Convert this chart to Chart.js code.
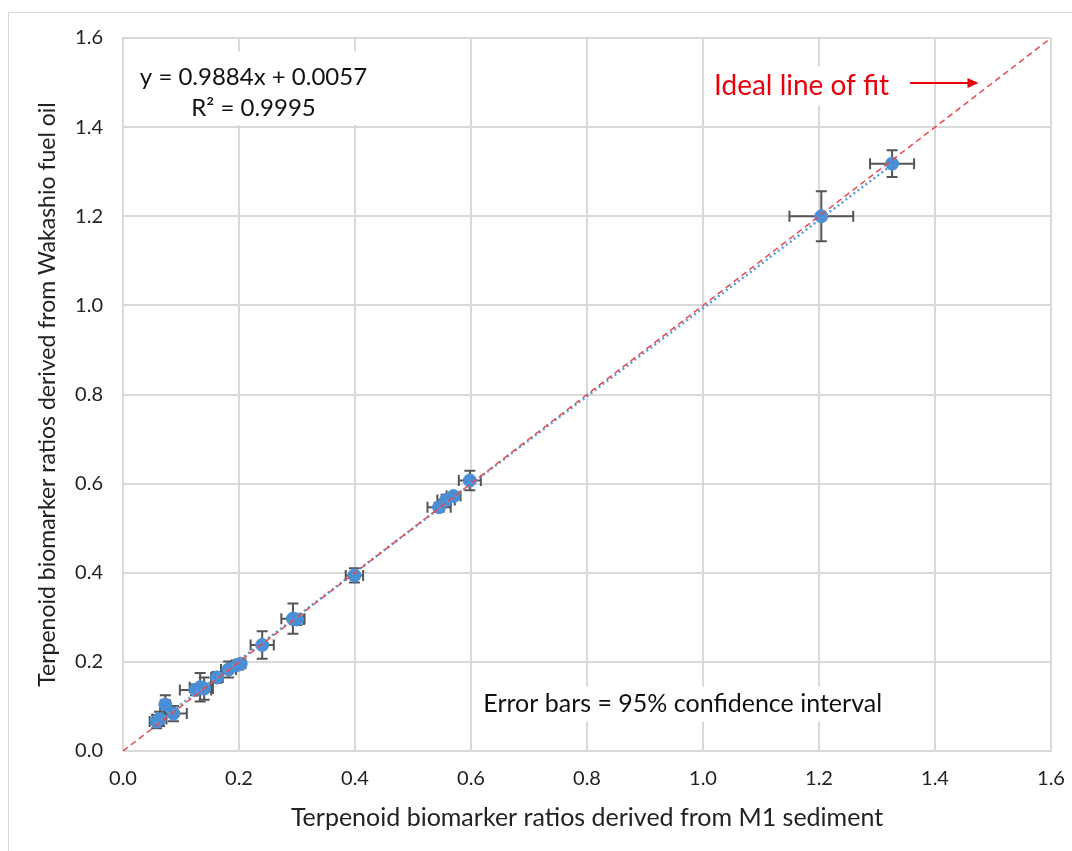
<!DOCTYPE html>
<html>
<head>
<meta charset="utf-8">
<script src="https://cdn.jsdelivr.net/npm/chart.js@4.4.0/dist/chart.umd.min.js"></script>
<style>
  html, body { margin: 0; padding: 0; background: #fff; }
  #wrap { position: relative; width: 1072px; height: 851px; }
  #frame { position: absolute; left: 8px; top: 12px; right: -10px; bottom: -10px;
           border-left: 1px solid #d6d6d6; border-top: 1px solid #d6d6d6; pointer-events: none; }
  canvas { position: absolute; left: 0; top: 0; }
</style>
</head>
<body>
<div id="wrap">
  <div id="frame"></div>
  <canvas id="chart" width="1072" height="851"></canvas>
</div>
<script>
// Puntos: ratios de M1 (x) vs Wakashio (y) y sus intervalos de confianza 95%
const ratiosM1 = [0.058, 0.063, 0.073, 0.087, 0.125, 0.133, 0.140, 0.162, 0.182, 0.197, 0.203,
                  0.240, 0.293, 0.300, 0.399, 0.545, 0.557, 0.570, 0.598, 1.204, 1.326];
const ratiosWakashio = [0.066, 0.072, 0.104, 0.084, 0.137, 0.143, 0.140, 0.165, 0.183, 0.193, 0.196,
                        0.238, 0.297, 0.295, 0.394, 0.547, 0.563, 0.572, 0.607, 1.200, 1.318];
const errorX = [0.012, 0.012, 0.008, 0.023, 0.027, 0.018, 0.015, 0.010, 0.013, 0.010, 0.008,
                0.020, 0.020, 0.012, 0.015, 0.020, 0.015, 0.012, 0.019, 0.055, 0.038];
const errorY = [0.015, 0.016, 0.021, 0.017, 0.012, 0.032, 0.025, 0.012, 0.018, 0.010, 0.008,
                0.031, 0.034, 0.012, 0.016, 0.010, 0.012, 0.008, 0.022, 0.056, 0.030];

// Linea ideal (1:1) y linea de tendencia
const idealX = [0, 1.6];
const idealY = [0, 1.6];
const trendX = [0.058, 1.326];
const trendY = [0.063, 1.316];

const axisTicks = [0, 0.2, 0.4, 0.6, 0.8, 1.0, 1.2, 1.4, 1.6];

const FONT = "Lato, 'Open Sans', sans-serif";
const GRID = "#d9d9d9";

const puntos = ratiosM1.map((x, i) => ({ x: x, y: ratiosWakashio[i] }));

// Textos sobre el grafico (posicion en unidades de datos)
const textos = [
    { text: "y = 0.9884x + 0.0057", x: 0.225, y: 1.512, size: 24, color: "#111" },
    { text: "R\u00B2 = 0.9995", x: 0.225, y: 1.442, size: 24, color: "#111" },
    { text: "Ideal line of fit", x: 1.170, y: 1.492, size: 28, color: "#e8000b" },
    { text: "Error bars = 95% confidence interval", x: 0.965, y: 0.105, size: 25, color: "#111" }
];

const errorBarsPlugin = {
    id: "errorBars",
    beforeDatasetsDraw(chart) {
        const { ctx, scales: { x, y } } = chart;
        ctx.save();

        // Cajas blancas detras de los textos
        ctx.fillStyle = "#fff";
        ctx.fillRect(x.getPixelForValue(0.005), y.getPixelForValue(1.57), x.getPixelForValue(0.44) - x.getPixelForValue(0.005), y.getPixelForValue(1.405) - y.getPixelForValue(1.57));
        textos.forEach(t => {
            ctx.font = `${t.size}px ${FONT}`;
            const w = ctx.measureText(t.text).width;
            const cx = x.getPixelForValue(t.x), cy = y.getPixelForValue(t.y);
            ctx.fillRect(cx - w / 2 - 4, cy - t.size * 0.7, w + 8, t.size * 1.4);
        });

        textos.forEach(t => {
            ctx.font = `${t.size}px ${FONT}`;
            ctx.fillStyle = t.color;
            ctx.textAlign = "center";
            ctx.textBaseline = "middle";
            ctx.fillText(t.text, x.getPixelForValue(t.x), y.getPixelForValue(t.y));
        });

        // Flecha roja
        const ax1 = x.getPixelForValue(1.357), ax2 = x.getPixelForValue(1.475), ay = y.getPixelForValue(1.499);
        ctx.strokeStyle = "#e8000b";
        ctx.fillStyle = "#e8000b";
        ctx.lineWidth = 2;
        ctx.beginPath();
        ctx.moveTo(ax1, ay);
        ctx.lineTo(ax2 - 8, ay);
        ctx.stroke();
        ctx.beginPath();
        ctx.moveTo(ax2, ay);
        ctx.lineTo(ax2 - 11, ay - 5);
        ctx.lineTo(ax2 - 11, ay + 5);
        ctx.closePath();
        ctx.fill();

        // Barras de error
        ctx.strokeStyle = "#555";
        ctx.lineWidth = 2;
        const cap = 5.5;
        puntos.forEach((p, i) => {
            const px = x.getPixelForValue(p.x), py = y.getPixelForValue(p.y);
            const xl = x.getPixelForValue(p.x - errorX[i]), xr = x.getPixelForValue(p.x + errorX[i]);
            const yt = y.getPixelForValue(p.y + errorY[i]), yb = y.getPixelForValue(p.y - errorY[i]);
            ctx.beginPath();
            ctx.moveTo(xl, py); ctx.lineTo(xr, py);
            ctx.moveTo(xl, py - cap); ctx.lineTo(xl, py + cap);
            ctx.moveTo(xr, py - cap); ctx.lineTo(xr, py + cap);
            ctx.moveTo(px, yt); ctx.lineTo(px, yb);
            ctx.moveTo(px - cap, yt); ctx.lineTo(px + cap, yt);
            ctx.moveTo(px - cap, yb); ctx.lineTo(px + cap, yb);
            ctx.stroke();
        });
        ctx.restore();
    }
};

new Chart(document.getElementById("chart").getContext("2d"), {
    type: "scatter",
    data: {
        datasets: [
            {
                label: "Ideal",
                type: "line",
                data: idealX.map((x, i) => ({ x: x, y: idealY[i] })),
                borderColor: "#e8494f",
                borderWidth: 1.5,
                borderDash: [6, 4],
                pointRadius: 0,
                fill: false,
                order: 0
            },
            {
                label: "Tendencia",
                type: "line",
                data: trendX.map((x, i) => ({ x: x, y: trendY[i] })),
                borderColor: "#5b9bd5",
                borderWidth: 2.5,
                borderDash: [2, 3],
                pointRadius: 0,
                fill: false,
                order: 1
            },
            {
                label: "Ratios",
                data: puntos,
                backgroundColor: "#4a8fd6",
                borderColor: "#4a8fd6",
                pointRadius: 6.5,
                order: 2
            }
        ]
    },
    options: {
        responsive: false,
        animation: false,
        layout: { padding: { top: 38, right: 21, left: 0, bottom: 0 } },
        plugins: {
            legend: { display: false },
            tooltip: { enabled: false }
        },
        scales: {
            x: {
                type: "linear",
                min: 0,
                max: 1.6,
                afterBuildTicks: scale => { scale.ticks = axisTicks.map(v => ({ value: v })); },
                afterFit: scale => { scale.height = 100; scale.paddingRight = 0; scale.paddingLeft = 0; },
                grid: { color: GRID, lineWidth: 2, drawTicks: false },
                border: { color: GRID, width: 2 },
                ticks: {
                    padding: 16,
                    color: "#222",
                    font: { family: FONT, size: 20 },
                    callback: v => v.toFixed(1)
                },
                title: {
                    display: true,
                    text: "Terpenoid biomarker ratios derived from M1 sediment",
                    color: "#222",
                    font: { family: FONT, size: 25 },
                    padding: { top: 0, bottom: 18 }
                }
            },
            y: {
                type: "linear",
                min: 0,
                max: 1.6,
                afterBuildTicks: scale => { scale.ticks = axisTicks.map(v => ({ value: v })); },
                afterFit: scale => { scale.width = 123; scale.paddingTop = 0; scale.paddingBottom = 0; },
                grid: { color: GRID, lineWidth: 2, drawTicks: false },
                border: { color: GRID, width: 2 },
                ticks: {
                    padding: 20,
                    color: "#222",
                    font: { family: FONT, size: 20 },
                    callback: v => v.toFixed(1)
                },
                title: {
                    display: true,
                    text: "Terpenoid biomarker ratios derived from Wakashio fuel oil",
                    color: "#222",
                    font: { family: FONT, size: 23 },
                    padding: { top: 34, bottom: 0 }
                }
            }
        }
    },
    plugins: [errorBarsPlugin]
});
</script>
</body>
</html>
